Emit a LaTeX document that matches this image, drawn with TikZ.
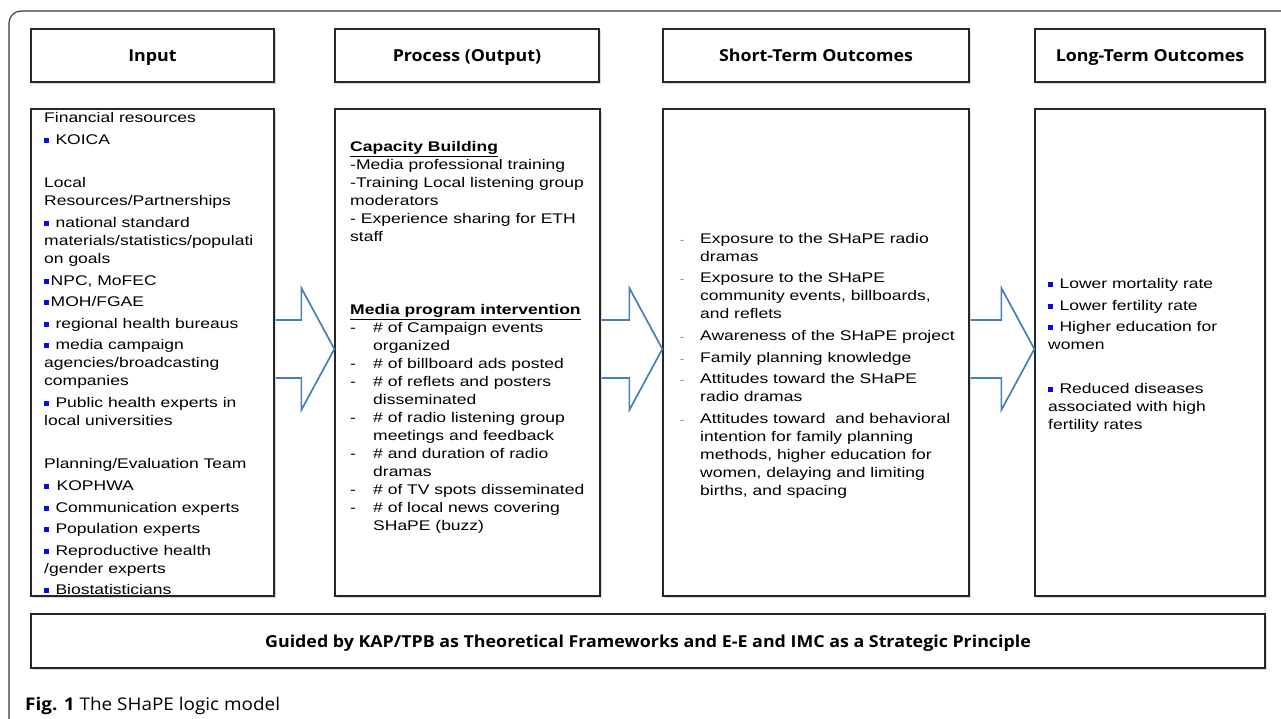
\documentclass[tikz,border=0pt]{standalone}
\usepackage{fontspec}
\setmainfont{Liberation Sans}[FakeStretch=1.25]
\newfontfamily\headfont{Open Sans}[FakeStretch=1.08]
\usetikzlibrary{calc,shadows}

\definecolor{arrowblue}{RGB}{74,126,187}
\definecolor{bulletblue}{RGB}{10,10,235}
\definecolor{dashblue}{RGB}{80,100,220}

\newcommand{\sq}{\raisebox{1.8pt}{\textcolor{bulletblue}{\rule{5pt}{5pt}}}\hspace{1.5pt}}
\newcommand{\bdash}{\makebox[23pt][l]{-}}
\newcommand{\bskip}{\hspace*{23pt}}
\newcommand{\sdash}{\makebox[20pt][l]{\textcolor{dashblue}{\fontsize{10}{10}\selectfont -}}}
\newcommand{\sskip}{\hspace*{20pt}}
% block arrow from one box to the next
\newcommand{\flowarrow}[2]{%
\draw[flow] let \p1=(#1.east), \p2=(#2.west) in
 (\x1+1pt,\y1+32.5pt) -- (\x2-33pt,\y1+32.5pt) -- (\x2-33pt,\y1+64.5pt) -- (\x2,\y1+3.5pt)
 -- (\x2-33pt,\y1-57.5pt) -- (\x2-33pt,\y1-25.5pt) -- (\x1+1pt,\y1-25.5pt);}

\tikzset{
  box/.style={draw=black!85, line width=1.3pt, fill=white, inner sep=0pt,
    drop shadow={shadow xshift=2pt, shadow yshift=-2pt, opacity=0.3}},
  headtxt/.style={font=\headfont\bfseries\fontsize{16.5}{18}\selectfont, text height=13pt, text depth=0pt},
  bodytxt/.style={font=\fontsize{14}{18}\selectfont, align=left, inner sep=0pt, anchor=north west},
  flow/.style={draw=arrowblue, line width=1.7pt, fill=white, line join=miter},
}

\begin{document}
\begin{tikzpicture}[x=1pt,y=-1pt]
\useasboundingbox (0,0) rectangle (1281,719);
\clip (0,0) rectangle (1281,719);
\draw [draw=black!80, line width=1.1pt, rounded corners=12pt] (9,740) -- (9,11) -- (1300,11);

% headers
\node[box, headtxt, minimum width=243pt, minimum height=53pt] (inhead) at (152.5,55.5) {Input};
\node[box, headtxt, minimum width=264pt, minimum height=53pt] (prochead) at (467,55.5) {Process (Output)};
\node[box, headtxt, minimum width=306pt, minimum height=53pt] (shorthead) at (816,55.5) {Short-Term Outcomes};
\node[box, headtxt, minimum width=230pt, minimum height=53pt] (longhead) at (1150,55.5) {Long-Term Outcomes};

% content boxes
\node[box, minimum width=243pt, minimum height=487pt] (inbox) at (152.5,352.5) {};
\node[box, minimum width=265pt, minimum height=487pt] (procbox) at (467.5,352.5) {};
\node[box, minimum width=306pt, minimum height=487pt] (shortbox) at (816,352.5) {};
\node[box, minimum width=230pt, minimum height=487pt] (longbox) at (1150,352.5) {};

\node[bodytxt] (intxt) at (44,112) {Financial resources\\[4pt]
\sq{} KOICA\\[25pt]
Local\\
Resources/Partnerships\\[4pt]
\sq{} national standard\\
materials/statistics/populati\\
on goals\\[4pt]
\sq NPC, MoFEC\\[3pt]
\sq MOH/FGAE\\[4pt]
\sq{} regional health bureaus\\[3pt]
\sq{} media campaign\\
agencies/broadcasting\\
companies\\[4pt]
\sq{} Public health experts in\\
local universities\\[25pt]
Planning/Evaluation Team\\[4pt]
\sq\hspace{6pt}KOPHWA\\[4pt]
\sq{} Communication experts\\[3pt]
\sq{} Population experts\\[4pt]
\sq{} Reproductive health\\
/gender experts\\[3pt]
\sq{} Biostatisticians};

\node[bodytxt] (proctxt) at (350,141) {\underline{\textbf{Capacity Building}}\\
-Media professional training\\
-Training Local listening group\\
moderators\\
- Experience sharing for ETH\\
staff\\[55pt]
\underline{\textbf{Media program intervention}}\\
\bdash\# of Campaign events\\
\bskip organized\\
\bdash\# of billboard ads posted\\
\bdash\# of reflets and posters\\
\bskip disseminated\\
\bdash\# of radio listening group\\
\bskip meetings and feedback\\
\bdash\# and duration of radio\\
\bskip dramas\\
\bdash\# of TV spots disseminated\\
\bdash\# of local news covering\\
\bskip SHaPE (buzz)};

\node[bodytxt] (shorttxt) at (680,233) {\sdash Exposure to the SHaPE radio\\
\sskip dramas\\[3pt]
\sdash Exposure to the SHaPE\\
\sskip community events, billboards,\\
\sskip and reflets\\[4pt]
\sdash Awareness of the SHaPE project\\[4pt]
\sdash Family planning knowledge\\[3pt]
\sdash Attitudes toward the SHaPE\\
\sskip radio dramas\\[4pt]
\sdash Attitudes toward \ and behavioral\\
\sskip intention for family planning\\
\sskip methods, higher education for\\
\sskip women, delaying and limiting\\
\sskip births, and spacing};

\node[bodytxt] (longtxt) at (1048,278) {\sq{} Lower mortality rate\\[4pt]
\sq{} Lower fertility rate\\[3pt]
\sq{} Higher education for\\
women\\[26pt]
\sq{} Reduced diseases\\
associated with high\\
fertility rates};

% arrows between the columns
\flowarrow{inbox}{procbox}
\flowarrow{procbox}{shortbox}
\flowarrow{shortbox}{longbox}

\node[box, headtxt, minimum width=1234pt, minimum height=54pt] (guide) at (648,641)
  {Guided by KAP/TPB as Theoretical Frameworks and E-E and IMC as a Strategic Principle};

\node[anchor=base west, inner sep=0pt, font=\headfont\fontsize{17.5}{18}\selectfont] (caption) at (25,710)
  {\textbf{Fig. 1} The SHaPE logic model};
\end{tikzpicture}
\end{document}
